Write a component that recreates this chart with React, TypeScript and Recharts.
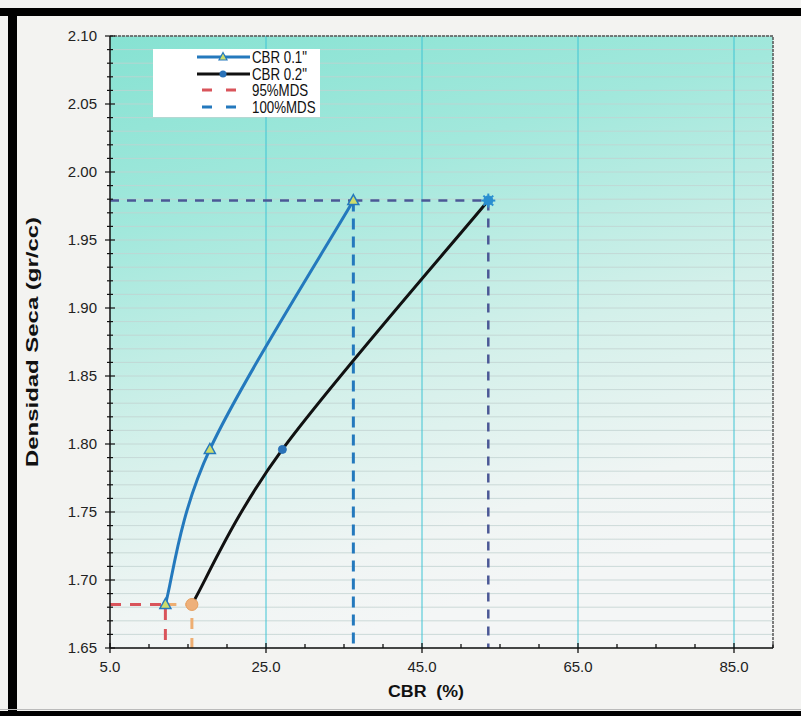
import React from "react";
import { ComposedChart, Line, XAxis, YAxis, CartesianGrid, ReferenceLine, Legend } from "recharts";

// ensayo CBR: densidad seca vs CBR
const densidades = [1.682, 1.796, 1.979];
const cbr01 = [12.1, 17.8, 36.2];
const cbr02 = [15.5, 27.1, 53.5];

const MDS = 1.979;
const MDS95 = 1.682;

const X_MIN = 5;
const X_MAX = 90;
const Y_MIN = 1.65;
const Y_MAX = 2.1;

const xLabels = [5, 25, 45, 65, 85];
const yLabels = [1.65, 1.7, 1.75, 1.8, 1.85, 1.9, 1.95, 2.0, 2.05, 2.1];
const xGrid = [25, 45, 65, 85];

// minor ticks every 5 (x) and 0.01 (y)
const xTicks = Array.from({ length: 18 }, (_, i) => X_MIN + i * 5);
const yTicks = Array.from({ length: 46 }, (_, i) => +(Y_MIN + i * 0.01).toFixed(2));

const serie01 = densidades.map((d, i) => ({ x: cbr01[i], y: d }));
const serie02 = densidades.map((d, i) => ({ x: cbr02[i], y: d }));

const guia95a = [{ x: X_MIN, y: MDS95 }, { x: cbr01[0], y: MDS95 }, { x: cbr01[0], y: Y_MIN }];
const guia95b = [{ x: cbr01[0], y: MDS95 }, { x: cbr02[0], y: MDS95 }, { x: cbr02[0], y: Y_MIN }];
const guia100a = [{ x: X_MIN, y: MDS }, { x: cbr01[2], y: MDS }];
const guia100v = [{ x: cbr01[2], y: MDS }, { x: cbr01[2], y: Y_MIN }];
const guia100b = [{ x: cbr01[2], y: MDS }, { x: cbr02[2], y: MDS }, { x: cbr02[2], y: Y_MIN }];

const FONT = '"Liberation Sans", Arial, sans-serif';
const BLUE = "#2479bd";
const SLATE = "#4b5896";
const RED = "#d9545b";
const ORANGE = "#eeae72";

// Excel-style smoothed line (Catmull-Rom through the points)
const excelSmooth: any = (context: any) => {
  let pts: number[][] = [];
  return {
    areaStart() {},
    areaEnd() {},
    lineStart() {
      pts = [];
    },
    point(x: number, y: number) {
      pts.push([+x, +y]);
    },
    lineEnd() {
      if (!pts.length) return;
      context.moveTo(pts[0][0], pts[0][1]);
      for (let i = 0; i < pts.length - 1; i++) {
        const p0 = pts[i - 1] || pts[i];
        const p1 = pts[i];
        const p2 = pts[i + 1];
        const p3 = pts[i + 2] || p2;
        context.bezierCurveTo(
          p1[0] + (p2[0] - p0[0]) / 6,
          p1[1] + (p2[1] - p0[1]) / 6,
          p2[0] - (p3[0] - p1[0]) / 6,
          p2[1] - (p3[1] - p1[1]) / 6,
          p2[0],
          p2[1]
        );
      }
    },
  };
};

const XTick = (props: any) => {
  const { x, y, payload } = props;
  const v = payload.value;
  const major = (v - X_MIN) % 20 === 0;
  const axisY = y - 13;
  return (
    <g>
      <line x1={x} x2={x} y1={major ? axisY - 5 : axisY - 4} y2={major ? axisY + 5 : axisY} stroke="#111" strokeWidth={1.3} />
      {major && (
        <text x={x} y={y} dy="0.71em" textAnchor="middle" fontSize={15} fontFamily={FONT} fill="#222">
          {v.toFixed(1)}
        </text>
      )}
    </g>
  );
};

const YTick = (props: any) => {
  const { x, y, payload } = props;
  const v = payload.value;
  const major = Math.round(v * 100) % 5 === 0;
  const axisX = x + 13;
  return (
    <g>
      <line x1={axisX - (major ? 5 : 3)} x2={axisX + (major ? 5 : 3)} y1={y} y2={y} stroke="#111" strokeWidth={1.2} />
      {major && (
        <text x={x} y={y} dy="0.35em" textAnchor="end" fontSize={15} fontFamily={FONT} fill="#222">
          {v.toFixed(2)}
        </text>
      )}
    </g>
  );
};

const Triangle = (props: any) => {
  const { cx, cy } = props;
  if (cx == null || cy == null) return null;
  return <path d={`M${cx},${cy - 6} L${cx + 5.5},${cy + 4} L${cx - 5.5},${cy + 4} Z`} fill="#cddc6c" stroke={BLUE} strokeWidth={1.5} />;
};

const SmallDot = (props: any) => {
  const { cx, cy, index } = props;
  if (cx == null || cy == null || index !== 1) return <g />;
  return <circle cx={cx} cy={cy} r={4} fill="#2a72b8" stroke="#2a72b8" />;
};

const OrangeDot = (props: any) => {
  const { cx, cy, index } = props;
  if (cx == null || cy == null || index !== 1) return <g />;
  return <circle cx={cx} cy={cy} r={6} fill="#eeb07a" stroke="#e59e5e" strokeWidth={1} />;
};

const Star = (props: any) => {
  const { cx, cy, index } = props;
  if (cx == null || cy == null || index !== 1) return <g />;
  const r = 7;
  const k = r * 0.7;
  return (
    <g stroke="#2a8fd0" strokeWidth={2}>
      <line x1={cx - r} x2={cx + r} y1={cy} y2={cy} />
      <line x1={cx} x2={cx} y1={cy - r} y2={cy + r} />
      <line x1={cx - k} x2={cx + k} y1={cy - k} y2={cy + k} />
      <line x1={cx - k} x2={cx + k} y1={cy + k} y2={cy - k} />
      <circle cx={cx} cy={cy} r={4} fill="#2a8fd0" />
    </g>
  );
};

const legendRows = [
  { name: 'CBR 0.1"', kind: "tri" },
  { name: 'CBR 0.2"', kind: "dot" },
  { name: "95%MDS", kind: "red" },
  { name: "100%MDS", kind: "blue" },
];

const LegendBox = () => (
  <div style={{ background: "#fff", width: 167, height: 68, fontFamily: FONT, fontSize: 14, color: "#111", overflow: "hidden" }}>
    {legendRows.map((r) => (
      <div key={r.name} style={{ display: "flex", alignItems: "center", height: 16.5 }}>
        <svg width={99} height={16} style={{ flex: "none" }}>
          {r.kind === "tri" && (
            <g>
              <line x1={44} x2={97} y1={8} y2={8} stroke={BLUE} strokeWidth={3} />
              <path d="M70,3.5 L74,11 L66,11 Z" fill="#cddc6c" stroke={BLUE} strokeWidth={1.2} />
            </g>
          )}
          {r.kind === "dot" && (
            <g>
              <line x1={44} x2={97} y1={8} y2={8} stroke="#111" strokeWidth={3} />
              <circle cx={70} cy={8} r={3.5} fill="#2a72b8" />
            </g>
          )}
          {r.kind === "red" && <line x1={49} x2={84} y1={8} y2={8} stroke={RED} strokeWidth={3} strokeDasharray="10 14" />}
          {r.kind === "blue" && <line x1={49} x2={84} y1={8} y2={8} stroke={BLUE} strokeWidth={3} strokeDasharray="10 14" />}
        </svg>
        <span style={{ whiteSpace: "nowrap", display: "inline-block", transform: "scale(0.95, 1.15)", transformOrigin: "left center" }}>{r.name}</span>
      </div>
    ))}
  </div>
);

export default function App() {
  return (
    <div style={{ position: "absolute", left: 0, top: 0, width: 801, height: 716, background: "#f3f3f1", overflow: "hidden" }}>
      <div style={{ position: "absolute", left: 0, top: 8, width: 801, height: 8, background: "#000" }} />
      <div style={{ position: "absolute", left: 8, top: 8, width: 9, height: 708, background: "#000" }} />
      <div style={{ position: "absolute", left: 0, top: 709, width: 801, height: 1, background: "#bbb" }} />
      <div style={{ position: "absolute", left: 0, top: 711, width: 801, height: 5, background: "#000" }} />
      <div style={{ position: "absolute", left: 0, top: 0 }}>
        <ComposedChart width={801} height={716} margin={{ top: 36, right: 28, bottom: 38, left: 0 }}>
          <defs>
            <linearGradient id="plotBg" x1="0" y1="0" x2="0.3" y2="1">
              <stop offset="0%" stopColor="#86e2d2" />
              <stop offset="30%" stopColor="#a2e8dc" />
              <stop offset="62%" stopColor="#d3f0ea" />
              <stop offset="88%" stopColor="#f0f5f4" />
              <stop offset="100%" stopColor="#f4f6f6" />
            </linearGradient>
          </defs>
          <CartesianGrid vertical={false} stroke="#c2d2d0" strokeWidth={0.8} fill="url(#plotBg)" fillOpacity={1} />
          <XAxis
            type="number"
            dataKey="x"
            domain={[X_MIN, X_MAX]}
            ticks={xTicks}
            interval={0}
            allowDataOverflow
            tickLine={false}
            tickSize={0}
            tickMargin={13}
            axisLine={{ stroke: "#111", strokeWidth: 1.5 }}
            height={30}
            tick={(p: any) => <XTick {...p} />}
            label={() => (
              <text x={426} y={697} textAnchor="middle" fontSize={16} fontWeight="bold" fontFamily={FONT} fill="#111" textLength={76} lengthAdjust="spacingAndGlyphs">
                CBR&#160;&#160;(%)
              </text>
            )}
          />
          <YAxis
            type="number"
            dataKey="y"
            domain={[Y_MIN, Y_MAX]}
            ticks={yTicks}
            interval={0}
            allowDataOverflow
            tickLine={false}
            tickSize={0}
            tickMargin={13}
            axisLine={{ stroke: "#111", strokeWidth: 1.5 }}
            width={110}
            tick={(p: any) => <YTick {...p} />}
            label={() => (
              <text
                x={38}
                y={342}
                transform="rotate(-90 38 342)"
                textAnchor="middle"
                fontSize={16}
                fontWeight="bold"
                fontFamily={FONT}
                fill="#111"
                textLength={250}
                lengthAdjust="spacingAndGlyphs"
              >
                Densidad Seca (gr/cc)
              </text>
            )}
          />
          {xGrid.map((v) => (
            <ReferenceLine key={v} x={v} stroke="#3ec4d4" strokeWidth={1} />
          ))}
          <ReferenceLine y={Y_MAX} stroke="#555" strokeWidth={1.5} strokeDasharray="3 1" />
          <ReferenceLine x={X_MAX} stroke="#555" strokeWidth={1.5} strokeDasharray="3 1" />

          <Line data={guia95a} dataKey="y" type="linear" stroke={RED} strokeWidth={3} strokeDasharray="11 9" dot={false} isAnimationActive={false} legendType="none" />
          <Line data={guia100a} dataKey="y" type="linear" stroke={SLATE} strokeWidth={2.5} strokeDasharray="9 8" dot={false} isAnimationActive={false} legendType="none" />
          <Line data={guia100v} dataKey="y" type="linear" stroke={BLUE} strokeWidth={3} strokeDasharray="11 7" dot={false} isAnimationActive={false} legendType="none" />
          <Line data={guia100b} dataKey="y" type="linear" stroke={SLATE} strokeWidth={2.5} strokeDasharray="9 8" dot={<Star />} isAnimationActive={false} legendType="none" />

          <Line data={serie01} dataKey="y" name='CBR 0.1"' type={excelSmooth} stroke={BLUE} strokeWidth={3} dot={<Triangle />} isAnimationActive={false} />
          <Line data={serie02} dataKey="y" name='CBR 0.2"' type={excelSmooth} stroke="#111" strokeWidth={3} dot={<SmallDot />} isAnimationActive={false} />
          <Line data={guia95b} dataKey="y" type="linear" stroke={ORANGE} strokeWidth={3} strokeDasharray="11 9" dot={<OrangeDot />} isAnimationActive={false} legendType="none" />

          <Legend
            layout="vertical"
            align="center"
            verticalAlign="middle"
            wrapperStyle={{ left: 153, top: 49, width: 167 }}
            content={() => <LegendBox />}
          />
        </ComposedChart>
      </div>
    </div>
  );
}
